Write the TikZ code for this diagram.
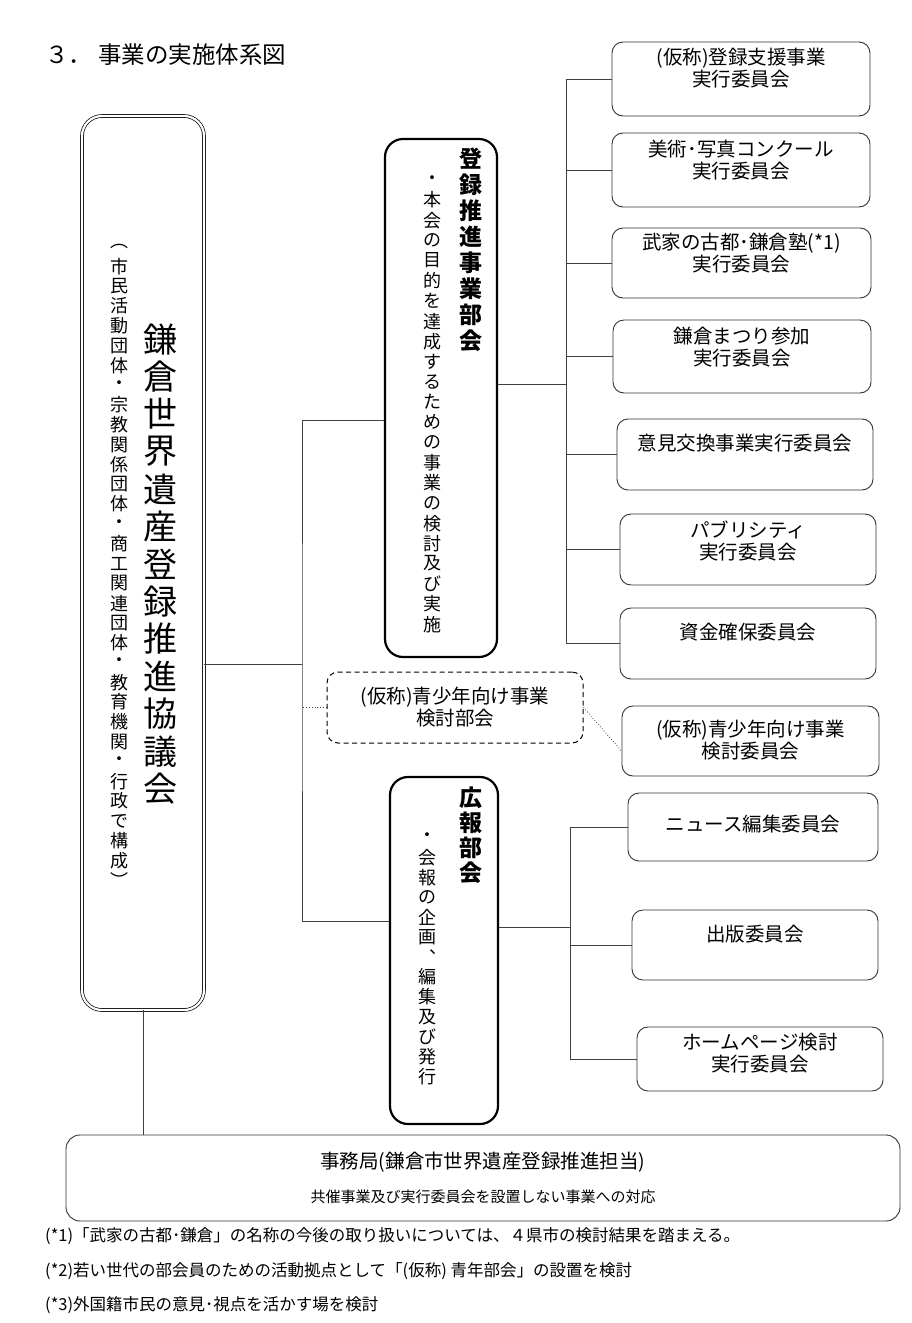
\documentclass[tikz,border=0pt]{standalone}
\usepackage{fontspec}
\setmainfont{Noto Sans CJK JP}

% vertical (tategaki) text: one glyph per cell
\newlength\tatestep
\newcommand\tate[2]{\setlength\tatestep{#1}\vbox{\offinterlineskip\tateloop#2\relax}}
\newcommand\tateloop[1]{\ifx\relax#1\else\vbox to\tatestep{\vss\hbox to 1em{\hss#1\hss}\vss}\expandafter\tateloop\fi}
% box text set at the top of a fixed box
\newcommand\iin[4]{\parbox[c][#2pt][t]{#1pt}{\centering\vspace*{#3pt}#4\par}}

\begin{document}
\begin{tikzpicture}[x=1pt, y=-1pt,
    conn/.style={draw=black!75, line width=0.8pt},
    bukai/.style={draw, line width=2.2pt, rounded corners=18pt, inner sep=0pt},
    iinkai/.style={draw=black!80, line width=0.9pt, rounded corners=11pt, inner sep=0pt, font=\fontsize{19.5}{22}\selectfont},
    tatehead/.style={inner sep=0pt, font=\fontsize{23}{23}\selectfont\bfseries},
    tatesub/.style={inner sep=0pt, font=\fontsize{18}{18}\selectfont},
    note/.style={anchor=west, inner sep=0pt, font=\fontsize{16.5}{18}\selectfont}]
    \useasboundingbox (0,0) rectangle (912,1323);

    % Title
    \node[anchor=west, inner sep=0pt, font=\fontsize{23.5}{24}\selectfont] (title) at (45,55) {３．\hspace{6pt}事業の実施体系図};

    % Council
    \node[draw, double, double distance=2.2pt, line width=0.7pt, rounded corners=20pt, minimum width=122pt, minimum height=894pt] (kyogikai) at (143,563) {};
    \node[inner sep=0pt, font=\fontsize{34}{34}\selectfont] (kyoname) at (160,564) {\tate{37.5pt}{鎌倉世界遺産登録推進協議会}};
    \node[tatesub] (kyosub) at (119,563.5) {\tate{19.8pt}{︵市民活動団体・宗教関係団体・商工関連団体・教育機関・行政で構成︶}};

    % Sections
    \node[bukai, minimum width=112pt, minimum height=518pt] (toroku) at (441,398) {};
    \node[tatehead] (torokuname) at (471,250) {\tate{26pt}{登録推進事業部会}};
    \node[tatesub] (torokusub) at (432,402) {\tate{20.2pt}{・本会の目的を達成するための事業の検討及び実施}};

    \node[bukai, minimum width=108pt, minimum height=347pt] (koho) at (444,950.5) {};
    \node[tatehead] (kohoname) at (471,835) {\tate{25pt}{広報部会}};
    \node[tatesub] (kohosub) at (427,957) {\tate{19.9pt}{・会報の企画︑編集及び発行}};

    \node[iinkai, draw=black, line width=1pt, dash pattern=on 5pt off 3.5pt] (seisho) at (455,707.5) {\iin{256}{71}{15.4}{(仮称)青少年向け事業\\検討部会}};

    % Committees
    \node[iinkai] (shien) at (741,79) {\iin{258}{74}{6.4}{(仮称)登録支援事業\\実行委員会}};
    \node[iinkai] (konkuru) at (741,170) {\iin{258}{74}{7.4}{美術･写真コンクール\\実行委員会}};
    \node[iinkai] (juku) at (741.5,263) {\iin{259}{70}{5.4}{武家の古都･鎌倉塾(*1)\\実行委員会}};
    \node[iinkai] (matsuri) at (742,356.5) {\iin{258}{73}{7.4}{鎌倉まつり参加\\実行委員会}};
    \node[iinkai] (iken) at (745,454.5) {\iin{256}{71}{15.4}{意見交換事業実行委員会}};
    \node[iinkai] (paburi) at (748,549.5) {\iin{256}{71}{6.4}{パブリシティ\\実行委員会}};
    \node[iinkai] (shikin) at (748,643.5) {\iin{256}{71}{15.4}{資金確保委員会}};
    \node[iinkai] (seishoiin) at (750.5,741) {\iin{257}{70}{14.4}{(仮称)青少年向け事業\\検討委員会}};
    \node[iinkai] (news) at (753,827) {\iin{250}{68}{22.4}{ニュース編集委員会}};
    \node[iinkai] (shuppan) at (755,945) {\iin{246}{70}{15.4}{出版委員会}};
    \node[iinkai] (hp) at (760,1059) {\iin{246}{64}{6.4}{ホームページ検討\\実行委員会}};

    % Secretariat
    \node[iinkai, rounded corners=14pt] (jimu) at (483,1178) {\parbox[c][86pt][t]{834pt}{\centering\vspace*{17pt}事務局(鎌倉市世界遺産登録推進担当)\par\vspace{16pt}{\fontsize{15}{18}\selectfont 共催事業及び実行委員会を設置しない事業への対応\par}}};

    % Connectors
    \coordinate (trunkl) at (302,664);
    \draw[conn] (kyogikai.east |- trunkl) -- (trunkl);
    \draw[conn] ([yshift=-22pt]toroku.west) -| (trunkl) |- ([yshift=29.5pt]koho.west);
    \draw[conn, dotted] (seisho.west) -- (seisho.west -| trunkl);

    \coordinate (trunkr) at (566,384);
    \draw[conn] (toroku.east |- trunkr) -- (trunkr);
    \draw[conn] (shien.west -| trunkr) -- (shikin.west -| trunkr);
    \foreach \n in {shien,konkuru,juku,matsuri,iken,paburi,shikin}
        \draw[conn] (\n.west -| trunkr) -- (\n.west);

    \coordinate (trunkk) at (570,927);
    \draw[conn] (koho.east |- trunkk) -- (trunkk);
    \draw[conn] (news.west -| trunkk) -- (hp.west -| trunkk);
    \foreach \n in {news,shuppan,hp}
        \draw[conn] (\n.west -| trunkk) -- (\n.west);

    \draw[conn, dotted] (seisho.east) -- ([yshift=-10pt]seishoiin.west);
    \draw[conn] (kyogikai.south) -- (kyogikai.south |- jimu.north);

    % Notes
    \node[note] (note1) at (45,1236) {(*1)「武家の古都･鎌倉」の名称の今後の取り扱いについては、４県市の検討結果を踏まえる。};
    \node[note] (note2) at (45,1271) {(*2)若い世代の部会員のための活動拠点として「(仮称) 青年部会」の設置を検討};
    \node[note] (note3) at (45,1305) {(*3)外国籍市民の意見･視点を活かす場を検討};
\end{tikzpicture}
\end{document}
